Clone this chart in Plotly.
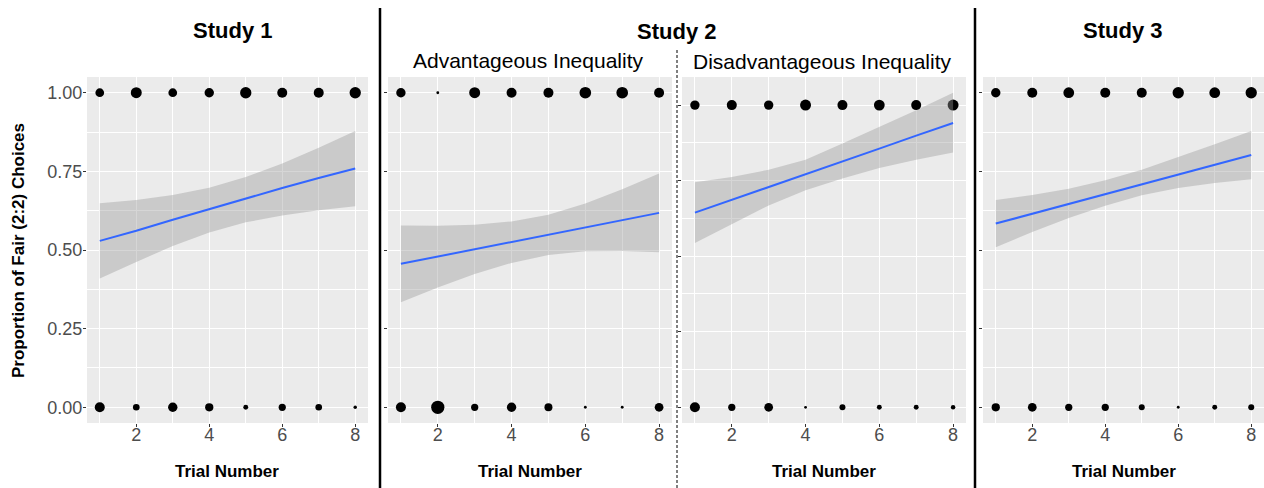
import plotly.graph_objects as go

# ---------------- data ----------------
trials = [1, 2, 3, 4, 5, 6, 7, 8]

# Study 1
s1_fair_n   = [19, 30, 19, 22, 32, 25, 25, 32]
s1_unfair_n = [25, 11, 22, 17, 6, 13, 11, 3]
s1_fit  = [0.529, 0.561, 0.596, 0.630, 0.664, 0.697, 0.729, 0.759]
s1_low  = [0.409, 0.462, 0.513, 0.556, 0.588, 0.610, 0.626, 0.639]
s1_high = [0.649, 0.659, 0.675, 0.698, 0.732, 0.775, 0.825, 0.878]

# Study 2 - Advantageous Inequality
s2a_fair_n   = [22, 2, 30, 25, 25, 34, 34, 25]
s2a_unfair_n = [25, 44, 13, 22, 16, 2, 2, 19]
s2a_fit  = [0.456, 0.479, 0.502, 0.525, 0.548, 0.572, 0.595, 0.618]
s2a_low  = [0.334, 0.381, 0.424, 0.459, 0.484, 0.496, 0.497, 0.493]
s2a_high = [0.578, 0.577, 0.580, 0.591, 0.612, 0.648, 0.693, 0.743]

# Study 2 - Disadvantageous Inequality
s2d_fair_n   = [22, 25, 22, 30, 25, 29, 25, 30]
s2d_unfair_n = [25, 13, 19, 2, 9, 6, 6, 5]
s2d_fit  = [0.644, 0.686, 0.729, 0.771, 0.814, 0.856, 0.899, 0.941]
s2d_low  = [0.544, 0.605, 0.668, 0.718, 0.757, 0.792, 0.819, 0.843]
s2d_high = [0.745, 0.762, 0.786, 0.819, 0.873, 0.928, 0.983, 1.041]

# Study 3
s3_fair_n   = [22, 25, 29, 25, 25, 32, 29, 32]
s3_unfair_n = [17, 19, 13, 13, 9, 2, 6, 9]
s3_fit  = [0.584, 0.615, 0.646, 0.677, 0.709, 0.740, 0.771, 0.802]
s3_low  = [0.509, 0.557, 0.602, 0.641, 0.674, 0.697, 0.713, 0.725]
s3_high = [0.659, 0.675, 0.695, 0.722, 0.755, 0.795, 0.836, 0.878]

y_ticks = [0, 0.25, 0.5, 0.75, 1.0]
y_ticktext = ["0.00", "0.25", "0.50", "0.75", "1.00"]
x_ticks = [2, 4, 6, 8]

panels = [
    dict(fair=s1_fair_n, unfair=s1_unfair_n, fit=s1_fit, low=s1_low, high=s1_high),
    dict(fair=s2a_fair_n, unfair=s2a_unfair_n, fit=s2a_fit, low=s2a_low, high=s2a_high),
    dict(fair=s2d_fair_n, unfair=s2d_unfair_n, fit=s2d_fit, low=s2d_low, high=s2d_high),
    dict(fair=s3_fair_n, unfair=s3_unfair_n, fit=s3_fit, low=s3_low, high=s3_high),
]

# ---------------- layout geometry ----------------
W, H = 1264, 488
FONT = "Liberation Sans, Arial, Helvetica, sans-serif"
x_domains_px = [(87, 368), (388, 672), (682, 966), (983, 1264)]
y_dom = [(H - 423) / H, (H - 77) / H]
y_ranges = [[-0.05, 1.05], [-0.05, 1.05], [-0.052, 1.093], [-0.05, 1.05]]

fig = go.Figure()

def msize(n):
    return 2.0 * n ** 0.5

for i, p in enumerate(panels):
    xa = "x" if i == 0 else f"x{i+1}"
    ya = "y" if i == 0 else f"y{i+1}"
    # count points
    xs = trials + trials
    ys = [1.0] * len(trials) + [0.0] * len(trials)
    ns = p["fair"] + p["unfair"]
    fig.add_trace(go.Scatter(
        x=xs, y=ys, mode="markers", xaxis=xa, yaxis=ya,
        marker=dict(color="#000000", opacity=1, size=[msize(n) for n in ns],
                    line=dict(width=0)),
        showlegend=False, hoverinfo="skip"))
    # ribbon
    fig.add_trace(go.Scatter(
        x=trials + trials[::-1], y=p["high"] + p["low"][::-1],
        mode="lines", fill="toself", fillcolor="rgba(153,153,153,0.4)",
        line=dict(width=0, color="rgba(0,0,0,0)"), xaxis=xa, yaxis=ya,
        showlegend=False, hoverinfo="skip"))
    # fit line
    fig.add_trace(go.Scatter(
        x=trials, y=p["fit"], mode="lines", xaxis=xa, yaxis=ya,
        line=dict(color="#3366FF", width=2), showlegend=False, hoverinfo="skip"))

layout = dict(
    width=W, height=H, margin=dict(l=0, r=0, t=0, b=0),
    paper_bgcolor="white", plot_bgcolor="#EBEBEB",
    font=dict(family=FONT, color="black"),
)
for i in range(4):
    xk = "xaxis" if i == 0 else f"xaxis{i+1}"
    yk = "yaxis" if i == 0 else f"yaxis{i+1}"
    ya = "y" if i == 0 else f"y{i+1}"
    xa = "x" if i == 0 else f"x{i+1}"
    x0, x1 = x_domains_px[i]
    layout[xk] = dict(
        domain=[x0 / W, min(x1 / W, 1.0)], anchor=ya, range=[0.65, 8.35],
        tickmode="array", tickvals=x_ticks, ticktext=[str(v) for v in x_ticks],
        showgrid=True, gridcolor="white", gridwidth=1.1,
        minor=dict(tickmode="array", tickvals=[1, 3, 5, 7], showgrid=True,
                   gridcolor="white", gridwidth=0.5, ticks=""),
        ticks="outside", ticklen=3, tickwidth=1, tickcolor="#333333",
        ticklabelstandoff=-8,
        tickfont=dict(size=18, color="#4D4D4D", family=FONT),
        zeroline=False, showline=False, fixedrange=True,
    )
    layout[yk] = dict(
        domain=y_dom, anchor=xa, range=y_ranges[i],
        tickmode="array", tickvals=y_ticks, ticktext=y_ticktext,
        showticklabels=(i == 0),
        showgrid=True, gridcolor="white", gridwidth=1.1,
        minor=dict(tickmode="array", tickvals=[0.125, 0.375, 0.625, 0.875],
                   showgrid=True, gridcolor="white", gridwidth=0.5, ticks=""),
        ticks="outside", ticklen=3, tickwidth=1, tickcolor="#333333",
        ticklabelstandoff=-3,
        tickfont=dict(size=18, color="#4D4D4D", family=FONT),
        zeroline=False, showline=False, fixedrange=True,
    )

fig.update_layout(**layout)

def ann(text, xpx, ypx, size, bold=False, angle=0):
    fig.add_annotation(
        text=f"<b>{text}</b>" if bold else text,
        x=xpx / W, y=(H - ypx) / H, xref="paper", yref="paper",
        xanchor="center", yanchor="middle", showarrow=False, textangle=angle,
        font=dict(size=size, family=FONT, color="black"))

ann("Study 1", 232, 30, 22, bold=True)
ann("Study 2", 676, 32, 22, bold=True)
ann("Study 3", 1122, 31, 22, bold=True)
ann("Advantageous Inequality", 528, 60, 21)
ann("Disadvantageous Inequality", 822, 61, 21)
for (x0, x1) in x_domains_px:
    ann("Trial Number", (x0 + x1) / 2, 471, 17, bold=True)
ann("Proportion of Fair (2:2) Choices", 18, 251, 17, bold=True, angle=-90)

# separators
fig.add_shape(type="line", xref="paper", yref="paper", x0=380 / W, x1=380 / W,
              y0=0, y1=(H - 8) / H, line=dict(color="black", width=2.5))
fig.add_shape(type="line", xref="paper", yref="paper", x0=975 / W, x1=975 / W,
              y0=0, y1=(H - 8) / H, line=dict(color="black", width=2.5))
fig.add_shape(type="line", xref="paper", yref="paper", x0=677 / W, x1=677 / W,
              y0=0, y1=(H - 48) / H, line=dict(color="black", width=1, dash="3px,2px"))

fig.write_html("out.html")
